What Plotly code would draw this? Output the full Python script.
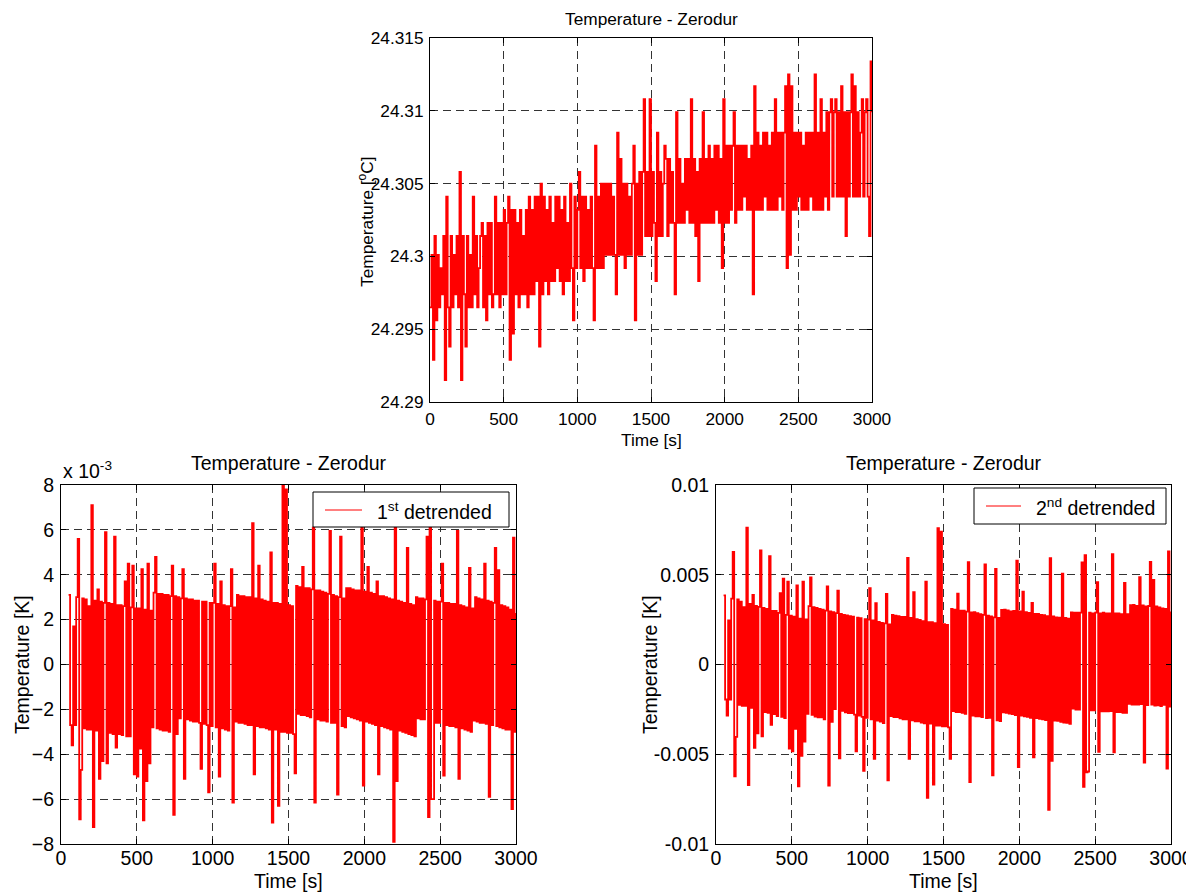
import plotly.graph_objects as go

# Zerodur temperature record, one sample every 10 s
time_top = list(range(0, 3001, 10))
temp_zerodur = [
    24.2965, 24.3001, 24.2929, 24.3014, 24.2956, 24.3001, 24.2965, 24.2992, 24.2974, 24.3014,
    24.2915, 24.3041, 24.2965, 24.2938, 24.3014, 24.2965, 24.3001, 24.2974, 24.3014, 24.2965,
    24.3058, 24.2915, 24.3014, 24.2974, 24.2938, 24.3014, 24.2965, 24.3001, 24.2965, 24.3041,
    24.2974, 24.3014, 24.2965, 24.2992, 24.3014, 24.3023, 24.2965, 24.3014, 24.2956, 24.3023,
    24.2974, 24.3023, 24.2965, 24.2974, 24.3041, 24.2974, 24.3023, 24.2965, 24.3023, 24.2974,
    24.3032, 24.2974, 24.3023, 24.3041, 24.2929, 24.3032, 24.2947, 24.3032, 24.2974, 24.3023,
    24.2965, 24.3032, 24.2974, 24.3014, 24.2974, 24.3032, 24.2965, 24.3041, 24.2974, 24.3032,
    24.2974, 24.3041, 24.2983, 24.3041, 24.2938, 24.3050, 24.2974, 24.3041, 24.2983, 24.3032,
    24.2974, 24.3041, 24.2983, 24.3023, 24.2983, 24.3041, 24.2992, 24.3041, 24.2983, 24.3032,
    24.2974, 24.3041, 24.2983, 24.3023, 24.2983, 24.3050, 24.2992, 24.2956, 24.3041, 24.2992,
    24.3032, 24.3058, 24.2992, 24.3041, 24.2983, 24.3041, 24.2992, 24.3032, 24.2992, 24.3041,
    24.2992, 24.2956, 24.3076, 24.2992, 24.3041, 24.2992, 24.3050, 24.2992, 24.3050, 24.3001,
    24.3050, 24.3001, 24.3050, 24.3001, 24.3041, 24.3001, 24.2974, 24.3085, 24.3001, 24.3067,
    24.3001, 24.3050, 24.2992, 24.3050, 24.3001, 24.3041, 24.3001, 24.3050, 24.3076, 24.2956,
    24.3050, 24.3001, 24.3058, 24.3001, 24.3058, 24.3108, 24.3014, 24.3058, 24.3014, 24.3108,
    24.3014, 24.3058, 24.3023, 24.2983, 24.3085, 24.3014, 24.3058, 24.3014, 24.3050, 24.3076,
    24.3067, 24.3014, 24.3067, 24.3023, 24.3058, 24.3023, 24.2974, 24.3099, 24.3023, 24.3067,
    24.3023, 24.3050, 24.3023, 24.3067, 24.3032, 24.3067, 24.3023, 24.3108, 24.3023, 24.3067,
    24.3014, 24.3058, 24.2983, 24.3067, 24.3023, 24.3099, 24.3023, 24.3067, 24.3023, 24.3076,
    24.3023, 24.3067, 24.3023, 24.3076, 24.3032, 24.3076, 24.3023, 24.3067, 24.2992, 24.3108,
    24.3023, 24.3076, 24.3023, 24.3076, 24.3032, 24.3076, 24.3099, 24.3023, 24.3076, 24.3032,
    24.3076, 24.3032, 24.3076, 24.3041, 24.3076, 24.3032, 24.3067, 24.3032, 24.3076, 24.2974,
    24.3117, 24.3032, 24.3085, 24.3032, 24.3076, 24.3032, 24.3085, 24.3041, 24.3085, 24.3032,
    24.3076, 24.3032, 24.3085, 24.3032, 24.3108, 24.3032, 24.3085, 24.3041, 24.3085, 24.3032,
    24.3085, 24.3117, 24.2992, 24.3125, 24.3001, 24.3117, 24.3032, 24.3085, 24.3032, 24.3085,
    24.3041, 24.3085, 24.3032, 24.3076, 24.3032, 24.3085, 24.3032, 24.3085, 24.3041, 24.3085,
    24.3032, 24.3125, 24.3032, 24.3085, 24.3032, 24.3108, 24.3032, 24.3085, 24.3041, 24.3099,
    24.3032, 24.3099, 24.3108, 24.3041, 24.3099, 24.3108, 24.3041, 24.3099, 24.3041, 24.3117,
    24.3041, 24.3099, 24.3014, 24.3099, 24.3041, 24.3099, 24.3125, 24.3041, 24.3117, 24.3041,
    24.3099, 24.3041, 24.3085, 24.3108, 24.3041, 24.3099, 24.3108, 24.3041, 24.3014, 24.3134,
    24.3099,
]

# detrended records start at 50 s
time_det = list(range(50, 3001, 10))

# 1st detrended, in units of 1e-3 K (axis carries the "x 10^-3" factor)
detrend1_mk = [
    3.1, -2.7, -3.6, 1.7, -2.7, 3.0, 5.6, -6.9, -4.7, 2.95,
    -2.85, 2.9, -2.9, 2.6, -2.9, 7.1, -7.25, 2.85, -2.95, 3.35,
    -5.1, 2.8, -4.3, 2.75, 5.9, -4.4, 2.75, -3.05, 2.7, -3.1,
    5.7, -3.7, 2.65, -3.1, 2.65, -3.15, 2.6, 3.7, -3.2, 4.5,
    -3.2, 2.55, 4.4, -4.9, 2.5, -5.0, 2.5, -3.75, 4.25, -6.95,
    2.45, -5.2, 4.5, -4.4, 2.4, -2.8, 3.2, 4.8, -2.85, 3.15,
    -2.9, 3.15, -2.95, 3.1, -2.95, 3.1, -3.0, 3.05, 4.4, -6.7,
    3.05, -3.1, 3.0, -2.4, 2.95, 4.25, -5.1, 2.95, -2.45, 2.9,
    -2.5, 2.9, -2.55, 2.85, -2.55, 2.85, -2.6, -4.65, 2.8, -2.65,
    2.8, -2.7, -5.7, 2.75, -2.75, 2.75, 4.5, -2.8, 2.7, -5.0,
    3.7, -2.85, 2.65, -2.9, 2.6, -2.95, 2.6, 4.25, -6.15, 2.55,
    -2.55, 3.1, -2.6, 3.05, -2.6, 3.05, -2.65, 3.0, -2.7, 3.0,
    -2.7, 6.3, -4.9, 2.95, -2.75, 4.4, -2.8, 2.9, -2.8, 2.85,
    -2.85, 2.8, -2.9, 5.0, -7.05, 2.75, -2.9, 2.75, -6.3, 2.7,
    -3.0, 8.0, -3.0, 7.8, -3.05, 2.65, -3.05, 2.6, -3.1, -4.85,
    3.5, -2.2, 3.45, -2.25, 4.35, -2.25, 3.4, -2.3, 3.4, -2.35,
    3.35, 6.1, -6.15, 3.3, -2.45, 3.3, -2.5, 3.25, -2.5, 3.2,
    -2.55, 3.15, 5.95, -2.6, 3.1, -2.6, 3.05, -5.8, 3.0, 5.7,
    -2.75, 2.95, -2.8, 3.4, -2.3, 3.4, -2.35, 3.35, -2.4, 3.3,
    -2.45, 3.3, -2.5, 6.1, -5.4, 3.25, -2.55, 4.35, -2.6, 3.2,
    -2.65, 3.15, -2.7, 3.7, -4.9, 3.05, -2.75, 3.05, -2.8, 3.0,
    -2.85, 2.95, -2.9, 2.9, -7.9, 6.1, -5.2, 2.85, -2.95, 2.8,
    -3.0, 2.75, -3.05, 5.2, -3.1, 2.7, -3.15, 2.65, -3.2, 3.0,
    -2.4, 2.95, -2.45, 2.95, -2.45, 2.9, 5.7, -6.8, 6.1, -6.0,
    -6.0, 2.85, -2.6, 2.8, -2.6, 2.8, 4.5, -4.95, 2.75, -2.7,
    2.75, -2.75, 2.7, -2.75, 2.7, -2.8, 5.95, -5.1, 2.65, -2.85,
    2.6, -2.9, 2.55, -2.95, 4.3, -3.0, 2.5, -2.5, 3.0, -2.55,
    2.95, -2.6, 2.9, -2.6, 4.5, -2.65, 2.85, -5.9, 2.8, -2.7,
    2.75, 5.2, -2.75, 4.2, -2.8, 2.65, -2.85, 2.6, -2.9, 2.55,
    -2.9, 2.45, -6.45, 5.65, -3.0, 2.3,
]

# 2nd detrended, in K
detrend2_k = [
    0.00385, -0.00195, -0.00285, 0.00245, -0.00195, 0.00367, 0.00627, -0.00623, -0.00403, 0.00362,
    -0.00225, 0.0035, -0.0023, 0.0032, -0.0023, 0.00763, -0.00672, 0.00338, -0.00242, 0.00388,
    -0.00464, 0.00326, -0.00384, 0.00321, 0.00636, -0.004, 0.00315, -0.00265, 0.0031, -0.0027,
    0.00604, -0.00336, 0.00299, -0.00276, 0.00299, -0.00287, 0.00288, 0.00398, -0.00292, 0.00478,
    -0.00298, 0.00277, 0.00462, -0.00468, 0.00272, -0.00484, 0.00266, -0.00359, 0.00441, -0.00679,
    0.00256, -0.00509, 0.00461, -0.00429, 0.00251, -0.00275, 0.00325, 0.00485, -0.0028, 0.0032,
    -0.0029, 0.00315, -0.00295, 0.0031, -0.00295, 0.00305, -0.00305, 0.003, 0.00435, -0.00675,
    0.00296, -0.00319, 0.00291, -0.00249, 0.00286, 0.00412, -0.00523, 0.00282, -0.00258, 0.00277,
    -0.00266, 0.00274, -0.00271, 0.00269, -0.00271, 0.00266, -0.00279, -0.00484, 0.00261, -0.00284,
    0.00258, -0.00292, -0.00592, 0.00253, -0.00297, 0.0025, 0.00425, -0.00305, 0.00245, -0.00525,
    0.00342, -0.00313, 0.00237, -0.00318, 0.00232, -0.00326, 0.00229, 0.00394, -0.00646, 0.00224,
    -0.00288, 0.00277, -0.00293, 0.00272, -0.00293, 0.0027, -0.003, 0.00265, -0.00305, 0.00265,
    -0.00306, 0.00594, -0.00526, 0.00259, -0.00311, 0.00403, -0.00317, 0.00253, -0.00317, 0.00248,
    -0.00323, 0.00242, -0.00328, 0.00462, -0.00743, 0.00236, -0.00329, 0.00236, -0.00669, 0.00231,
    -0.0034, 0.0076, -0.0034, 0.0074, -0.00345, 0.00225, -0.00345, 0.0022, -0.0035, -0.00525,
    0.0031, -0.0026, 0.00305, -0.00265, 0.00395, -0.00265, 0.003, -0.0027, 0.003, -0.00275,
    0.00295, 0.0057, -0.00655, 0.0029, -0.00285, 0.00291, -0.00289, 0.00286, -0.00289, 0.00281,
    -0.00293, 0.00277, 0.00557, -0.00298, 0.00272, -0.00297, 0.00268, -0.00617, 0.00263, 0.00533,
    -0.00311, 0.00259, -0.00316, 0.00304, -0.00266, 0.00306, -0.00269, 0.00301, -0.00274, 0.00296,
    -0.00277, 0.00298, -0.00282, 0.00578, -0.00572, 0.00296, -0.00284, 0.00406, -0.00289, 0.00291,
    -0.00292, 0.00288, -0.00297, 0.00343, -0.00517, 0.00282, -0.00298, 0.00282, -0.00303, 0.00277,
    -0.00305, 0.00275, -0.0031, 0.0027, -0.0081, 0.00593, -0.00537, 0.00268, -0.00312, 0.00263,
    -0.00314, 0.00261, -0.00319, 0.00506, -0.00324, 0.0026, -0.00325, 0.00255, -0.0033, 0.0029,
    -0.00246, 0.00289, -0.00251, 0.00289, -0.00251, 0.00289, 0.00569, -0.00681, 0.00609, -0.00601,
    -0.00596, 0.00289, -0.00256, 0.00284, -0.00256, 0.00289, 0.00459, -0.00486, 0.00284, -0.00261,
    0.00289, -0.00261, 0.00284, -0.00261, 0.00284, -0.0026, 0.00615, -0.0049, 0.00285, -0.00265,
    0.00285, -0.00265, 0.0028, -0.0027, 0.00455, -0.00269, 0.00281, -0.00219, 0.00331, -0.00224,
    0.00332, -0.00223, 0.00327, -0.00223, 0.00487, -0.00221, 0.00329, -0.00546, 0.00324, -0.00226,
    0.00326, 0.00571, -0.00224, 0.00471, -0.00229, 0.00323, -0.00227, 0.00318, -0.00232, 0.00313,
    -0.00225, 0.0031, -0.0058, 0.0063, -0.00235, 0.00295,
]

time_ticks = [0, 500, 1000, 1500, 2000, 2500, 3000]
top_yticks = [24.29, 24.295, 24.3, 24.305, 24.31, 24.315]
top_ytext = ['24.29', '24.295', '24.3', '24.305', '24.31', '24.315']
mk_yticks = [-8, -6, -4, -2, 0, 2, 4, 6, 8]
k_yticks = [-0.01, -0.005, 0, 0.005, 0.01]
k_ytext = ['-0.01', '-0.005', '0', '0.005', '0.01']

# the page body has an 8 px margin, so the figure is 8 px smaller and all
# page positions below are shifted by that amount
OFF = 8
W, H = 1194 - OFF, 892 - OFF
RED = '#ff0000'
LW = 1.8
FONT = 'Liberation Sans, Arial, Helvetica, sans-serif'


def px(x):
    return (x - OFF) / W


def py(y):
    return 1 - (y - OFF) / H


def axis_style(size, **kw):
    d = dict(showline=True, linecolor='black', linewidth=1, mirror='ticks',
             ticks='inside', ticklen=5, tickcolor='black', automargin=False,
             showgrid=True, gridcolor='#333333', gridwidth=1, griddash='8px,5px',
             zeroline=False, tickfont=dict(size=size, color='black', family=FONT))
    d.update(kw)
    return d


fig = go.Figure()

# quantised sensor data: step lines keep the dense band solid
for xs, ys, xa, ya in [(time_top, temp_zerodur, 'x', 'y'),
                       (time_det, detrend1_mk, 'x2', 'y2'),
                       (time_det, detrend2_k, 'x3', 'y3')]:
    fig.add_trace(go.Scatter(x=xs, y=ys, mode='lines',
                             line=dict(color=RED, width=LW, shape='hv', simplify=False),
                             showlegend=False, xaxis=xa, yaxis=ya))

# plot boxes in page pixels (left, right, top, bottom)
top_box = (430, 872, 38, 402)
bl_box = (61, 516, 485, 844)
br_box = (716, 1171, 485, 844)

fig.update_layout(
    width=W, height=H, autosize=False,
    margin=dict(l=0, r=0, t=0, b=0),
    paper_bgcolor='white', plot_bgcolor='white',
    font=dict(family=FONT, color='black'),
    showlegend=False,
    xaxis=axis_style(17.3, domain=[px(top_box[0]), px(top_box[1])], anchor='y',
                     range=[0, 3000], tickvals=time_ticks, ticklabelstandoff=1),
    yaxis=axis_style(17.3, domain=[py(top_box[3]), py(top_box[2])], anchor='x',
                     range=[24.29, 24.315], tickvals=top_yticks, ticktext=top_ytext,
                     ticklabelstandoff=2),
    xaxis2=axis_style(19.5, domain=[px(bl_box[0]), px(bl_box[1])], anchor='y2',
                      range=[0, 3000], tickvals=time_ticks, ticklabelstandoff=-3),
    yaxis2=axis_style(19.5, domain=[py(bl_box[3]), py(bl_box[2])], anchor='x2',
                      range=[-8, 8], tickvals=mk_yticks, ticklabelstandoff=2),
    xaxis3=axis_style(19.5, domain=[px(br_box[0]), px(br_box[1])], anchor='y3',
                      range=[0, 3000], tickvals=time_ticks, ticklabelstandoff=-3),
    yaxis3=axis_style(19.5, domain=[py(br_box[3]), py(br_box[2])], anchor='x3',
                      range=[-0.01, 0.01], tickvals=k_yticks, ticktext=k_ytext,
                      ticklabelstandoff=2),
)


def label(text, x, y, size, angle=0, xanchor='center'):
    fig.add_annotation(text=text, x=px(x), y=py(y), xref='paper', yref='paper',
                       showarrow=False, textangle=angle,
                       xanchor=xanchor, yanchor='middle',
                       font=dict(size=size, color='black', family=FONT))


def legend_box(x0, x1, y0, y1, line_x0, line_x1, line_y, text):
    # MATLAB-style legend: white box, short red line sample, label
    fig.add_shape(type='rect', xref='paper', yref='paper',
                  x0=px(x0), x1=px(x1), y0=py(y1), y1=py(y0),
                  line=dict(color='black', width=1), fillcolor='white', layer='above')
    fig.add_shape(type='line', xref='paper', yref='paper',
                  x0=px(line_x0), x1=px(line_x1), y0=py(line_y), y1=py(line_y),
                  line=dict(color=RED, width=1), layer='above')
    label(text, line_x1 + 13, line_y + 1, 19.5, xanchor='left')


# top panel texts
label('Temperature - Zerodur', 651, 19, 17.3)
label('Time [s]', 651, 440, 17.3)
label('Temperature [<sup>o</sup>C]', 366, 222, 17.3, angle=-90)

# bottom-left panel texts
label('Temperature - Zerodur', 288.5, 463, 19.5)
label('Time [s]', 288.5, 881, 19.5)
label('Temperature [K]', 22, 665, 19.5, angle=-90)
label('x 10<sup>-3</sup>', 61, 470, 19.5, xanchor='left')
legend_box(313, 509, 492, 527, 325, 362, 510, '1<sup>st</sup> detrended')

# bottom-right panel texts
label('Temperature - Zerodur', 943.5, 463, 19.5)
label('Time [s]', 943.5, 881, 19.5)
label('Temperature [K]', 650, 665, 19.5, angle=-90)
legend_box(974, 1166, 488, 524, 986, 1021, 506, '2<sup>nd</sup> detrended')

fig.write_html('out.html')
